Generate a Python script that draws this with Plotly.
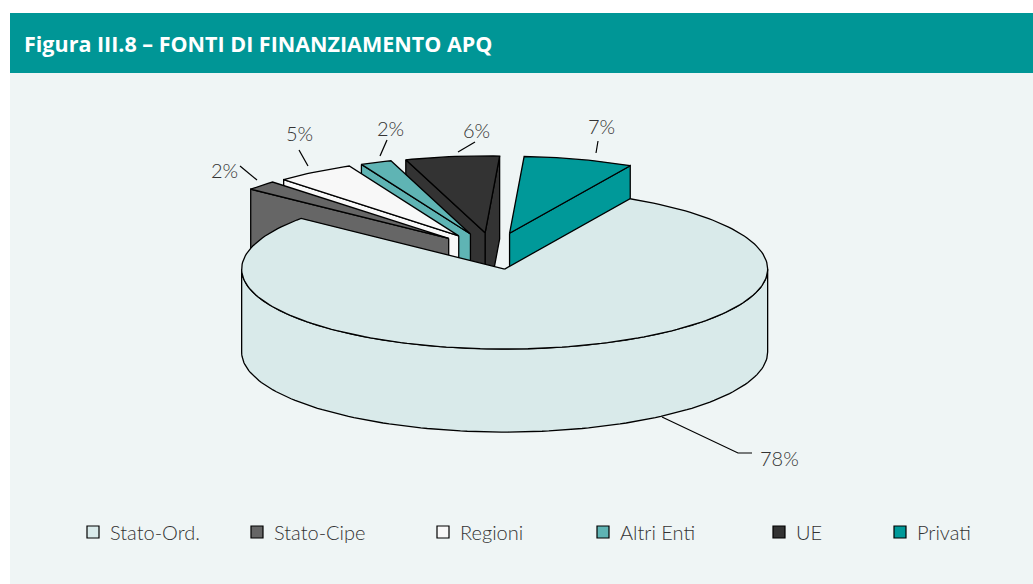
import numpy as np
import plotly.graph_objects as go

# ---- data -------------------------------------------------------------
categories = ["Stato-Ord.", "Stato-Cipe", "Regioni", "Altri Enti", "UE", "Privati"]
shares = [78, 2, 5, 2, 6, 7]            # percent of total funding
slice_colors = ["#D9EAEA", "#666666", "#F8F8F8", "#5FB4B4", "#333333", "#009999"]

# ---- page / pie geometry (pixels) -------------------------------------
W, H = 1033, 584
CX, CY = 493, 251          # centre of the unexploded pie top
RX, RY = 263, 80           # ellipse radii of the top face
DEPTH = 83                 # thickness of the pie
EXPLODE = 0.23             # explosion as fraction of the radius
START = 61.5               # degrees; slices run clockwise from here
PERSPECTIVE = 0.04         # slices pushed to the back look slightly smaller
EDGE = dict(color="black", width=1.3)

TEAL = "#009696"
PANEL = "#EFF5F5"
TEXT = "#333333"
LABEL_FONT = dict(family="Lato, Liberation Sans, sans-serif", size=20, color=TEXT, weight=300)


def arc(cx, cy, a0, a1, sc=1.0, dy=0.0):
    t = np.radians(np.linspace(a0, a1, max(int(abs(a1 - a0) / 1.5) + 2, 3)))
    return cx + sc * RX * np.cos(t), cy - sc * RY * np.sin(t) + dy


def point(cx, cy, a, sc=1.0):
    t = np.radians(a)
    return cx + sc * RX * np.cos(t), cy - sc * RY * np.sin(t)


fig = go.Figure()


def face(xs, ys, color):
    fig.add_trace(go.Scatter(
        x=list(xs) + [xs[0]], y=list(ys) + [ys[0]], mode="lines",
        fill="toself", fillcolor=color, line=EDGE,
        hoverinfo="skip", showlegend=False))


# slice angular extents (clockwise from START)
slices = []
acc = 0.0
for name, v, col in zip(categories, shares, slice_colors):
    hi = START - acc * 3.6
    lo = hi - v * 3.6
    acc += v
    mid = np.radians((lo + hi) / 2)
    cx = CX + EXPLODE * RX * np.cos(mid)
    cy = CY - EXPLODE * RY * np.sin(mid)
    sc = 1 - PERSPECTIVE * max(np.sin(mid), 0)
    slices.append(dict(name=name, v=v, col=col, lo=lo, hi=hi, sc=sc,
                       cx=cx, cy=cy, depth_key=np.sin(mid)))

# paint from the back of the pie to the front
for s in sorted(slices, key=lambda d: -d["depth_key"]):
    cx, cy, lo, hi, col, sc = s["cx"], s["cy"], s["lo"], s["hi"], s["col"], s["sc"]
    # radial cut faces that turn towards the viewer
    for edge, visible in ((lo, np.cos(np.radians(lo)) > 0),
                          (hi, np.cos(np.radians(hi)) < 0)):
        if visible:
            px, py = point(cx, cy, edge, sc)
            face([cx, px, px, cx], [cy, py, py + DEPTH, cy + DEPTH], col)
    # curved outer wall where it faces the viewer
    for k in range(-2, 3):
        a = max(lo, -180 + 360 * k)
        b = min(hi, 0 + 360 * k)
        if b > a:
            tx, ty = arc(cx, cy, a, b, sc)
            bx, by = arc(cx, cy, b, a, sc, dy=DEPTH)
            face(np.concatenate([tx, bx]), np.concatenate([ty, by]), col)
    # top face
    ax_, ay_ = arc(cx, cy, lo, hi, sc)
    face(np.concatenate([[cx], ax_]), np.concatenate([[cy], ay_]), col)

# ---- background panels ------------------------------------------------
shapes = [
    dict(type="rect", xref="x", yref="y", x0=10, x1=W, y0=73, y1=H,
         fillcolor=PANEL, line=dict(width=0), layer="below"),
    dict(type="rect", xref="x", yref="y", x0=10, x1=W, y0=13, y1=73,
         fillcolor=TEAL, line=dict(width=0), layer="below"),
]

annotations = [
    dict(x=22, y=43, xref="x", yref="y", xanchor="left", yanchor="middle",
         text="<b>Figura III.8 – FONTI DI FINANZIAMENTO APQ</b>", showarrow=False,
         font=dict(family="Open Sans, Noto Sans, sans-serif", size=21.5, color="white")),
]

# ---- percentage labels with leader lines ------------------------------
label_pos = {
    "Stato-Ord.": (779, 458),
    "Stato-Cipe": (224, 170),
    "Regioni": (299, 133),
    "Altri Enti": (390, 128),
    "UE": (476, 130),
    "Privati": (601, 126),
}
leaders = {
    "Stato-Ord.": [(662, 417), (738, 453), (752, 453)],
    "Stato-Cipe": [(240, 166), (257, 180)],
    "Regioni": [(299, 150), (308, 166)],
    "Altri Enti": [(387, 140), (380, 156)],
    "UE": [(475, 142), (458, 152)],
    "Privati": [(598, 141), (596, 153)],
}
for s in slices:
    lx, ly = label_pos[s["name"]]
    annotations.append(dict(x=lx, y=ly, xref="x", yref="y", text=f"{s['v']}%",
                            showarrow=False, font=LABEL_FONT))
    pts = leaders[s["name"]]
    path = "M " + " L ".join(f"{px},{py}" for px, py in pts)
    shapes.append(dict(type="path", xref="x", yref="y", path=path,
                       line=dict(color="black", width=1.2)))

# ---- legend -----------------------------------------------------------
legend_x = [87, 251, 437, 597, 773, 894]
for name, col, lx in zip(categories, slice_colors, legend_x):
    shapes.append(dict(type="rect", xref="x", yref="y", x0=lx, x1=lx + 12,
                       y0=526, y1=538, fillcolor=col,
                       line=dict(color="black", width=1.2)))
    annotations.append(dict(x=lx + 21, y=532, xref="x", yref="y", xanchor="left",
                            yanchor="middle", text=name, showarrow=False,
                            font=LABEL_FONT))

fig.update_layout(
    width=W, height=H,
    margin=dict(l=0, r=0, t=0, b=0),
    paper_bgcolor="white", plot_bgcolor="rgba(0,0,0,0)",
    xaxis=dict(range=[0, W], visible=False, fixedrange=True),
    yaxis=dict(range=[H, 0], visible=False, fixedrange=True),
    shapes=shapes, annotations=annotations, showlegend=False,
)

fig.write_html("out.html")
